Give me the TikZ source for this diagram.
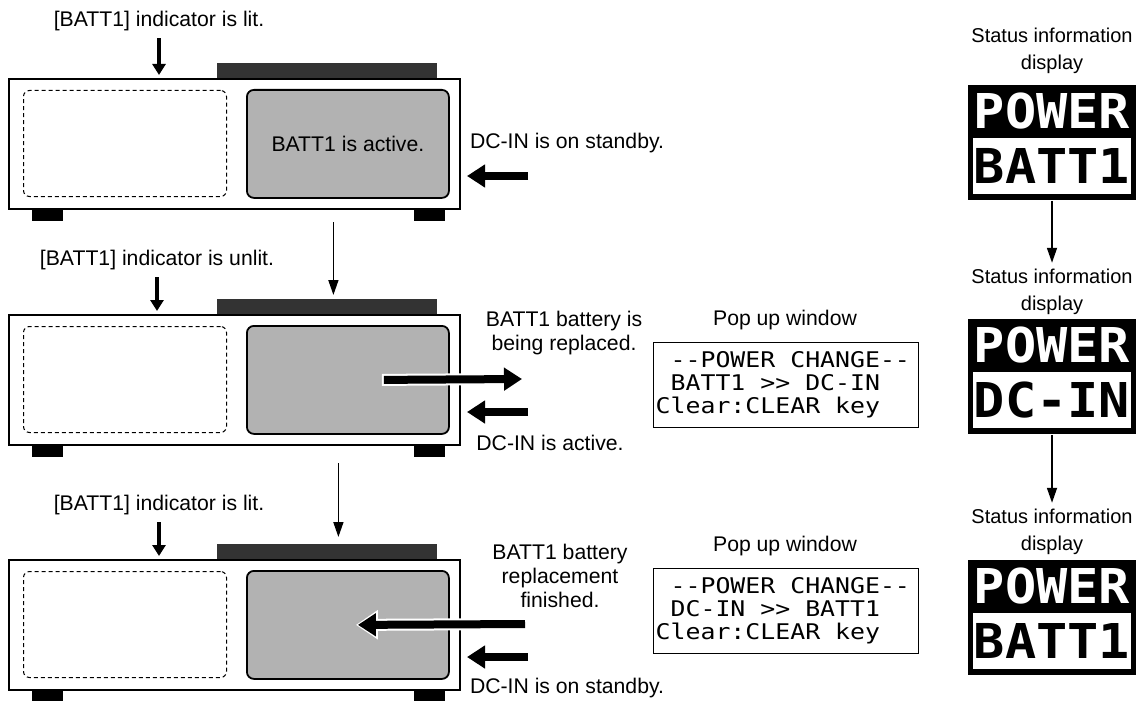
\documentclass[tikz,border=0pt]{standalone}
\usepackage{fontspec}
\setmainfont{Liberation Sans}
\newfontfamily\lcdfont{DejaVu Sans Mono}[FakeStretch=1.15]
\newfontfamily\dotfont{DejaVu Sans Mono Bold}[FakeStretch=1.08]
\usetikzlibrary{positioning,arrows.meta}
\definecolor{panelgray}{gray}{0.7}
\definecolor{lidgray}{gray}{0.2}
\newcommand{\lsp}{\hphantom{0}}

\begin{document}
\begin{tikzpicture}[x=0.5pt,y=-0.5pt,
  txt/.style={font=\fontsize{10.6}{12}\selectfont,align=center,inner sep=0pt},
  stxt/.style={font=\fontsize{10}{13.5}\selectfont,align=center,inner sep=0pt},
  case/.style={draw,line width=1pt,fill=white,minimum width=225.5pt,minimum height=65pt,anchor=north west,inner sep=0pt},
  slot/.style={draw,dash pattern=on 2pt off 1.5pt,line width=0.5pt,rounded corners=3pt,minimum width=101.5pt,minimum height=53pt,anchor=north west,inner sep=0pt},
  panel/.style={draw,line width=0.9pt,fill=panelgray,rounded corners=3.5pt,minimum width=101pt,minimum height=54pt,anchor=north west,inner sep=0pt},
  lid/.style={fill=lidgray,minimum width=110pt,minimum height=7.5pt,anchor=north west,inner sep=0pt},
  foot/.style={fill=black,minimum width=15.5pt,minimum height=6.5pt,anchor=north west,inner sep=0pt},
  popup/.style={draw,line width=0.7pt,anchor=north west,minimum height=42.5pt,text width=130.5pt,inner xsep=1pt,align=left,font=\lcdfont\fontsize{10.8}{11.5}\selectfont},
  screen/.style={fill=black,minimum width=84pt,minimum height=57.5pt,anchor=north,inner sep=0pt},
  dotrow/.style={inner sep=0pt,font=\dotfont\fontsize{24}{25}\selectfont},
  pointer/.style={-{Triangle[length=5.5pt,width=6.5pt]},line width=1.6pt},
  flow/.style={-{Triangle[length=7.5pt,width=5pt]},line width=0.8pt},
  fat/.style={-{Triangle[length=9pt,width=11pt]},line width=4pt},
  halo/.style={-{Triangle[length=11pt,width=14pt]},line width=6pt,white}]
\useasboundingbox (0,0) rectangle (1143,700);

% three views of the unit
\foreach \n/\t in {1/78,2/314,3/559}{
  \node[lid] (lid\n) at (217,\t-15) {};
  \node[foot] (footl\n) at (32,\t+130) {};
  \node[foot] (footr\n) at (414,\t+130) {};
  \node[case] (case\n) at (8,\t) {};
  \node[slot] (slot\n) at (23,\t+12) {};
  \node[panel] (panel\n) at (246,\t+11) {};
  % DC-IN feed
  \coordinate (dcin\n) at (528,\t+98);
  \draw[fat] (dcin\n) -- ([xshift=3pt]case\n.east |- dcin\n);
}
\node[txt] (act1) at (panel1) {BATT1 is active.};

% indicator notes
\node[txt] (lit1) at (159,21) {[BATT1] indicator is lit.};
\node[txt] (lit2) at (157,260) {[BATT1] indicator is unlit.};
\node[txt] (lit3) at (159,505) {[BATT1] indicator is lit.};
\foreach \n in {1,2,3}
  \draw[pointer,shorten <=3.5pt,shorten >=1.5pt] (lit\n) -- (lit\n |- case\n.north);

% steps
\draw[flow,shorten <=6pt,shorten >=2pt] ([xshift=3pt]lid2.north |- case1.south) -- ([xshift=3pt]lid2.north);
\draw[flow,shorten <=8.5pt,shorten >=3.5pt] ([xshift=5.5pt]lid3.north |- case2.south) -- ([xshift=5.5pt]lid3.north);

% right hand notes
\node[txt] (stby1) at (567,143) {DC-IN is on standby.};
\node[txt] (rep2) at (564,333) {BATT1 battery is\\being replaced.};
\node[txt] (act2) at (550,443) {DC-IN is active.};
\node[txt] (rep3) at (560,576) {BATT1 battery\\replacement\\finished.};
\node[txt] (stby3) at (567,688) {DC-IN is on standby.};

% battery out / in
\coordinate (out2) at (522,379);
\draw[halo] ([xshift=17pt]panel2.center) -- ([xshift=1pt]out2);
\draw[fat] ([xshift=18pt]panel2.center) -- (out2);
\coordinate (in3) at (525,624);
\draw[halo] ([xshift=1pt]in3) -- ([xshift=4pt]panel3.center);
\draw[fat] (in3) -- ([xshift=5pt]panel3.center);

% pop up windows
\node[txt] (popt2) at (785,320) {Pop up window};
\node[popup] (pop2) at (653,342) {\lsp--POWER\lsp CHANGE--\\\lsp BATT1\lsp>{}>\lsp DC-IN\\Clear:CLEAR\lsp key};
\node[txt] (popt3) at (785,546) {Pop up window};
\node[popup] (pop3) at (653,568) {\lsp--POWER\lsp CHANGE--\\\lsp DC-IN\lsp>{}>\lsp BATT1\\Clear:CLEAR\lsp key};

% status information displays
\node[stxt] (stat1) at (1052,51) {Status information\\display};
\node[stxt] (stat2) at (1052,292) {Status information\\display};
\node[stxt] (stat3) at (1052,532) {Status information\\display};
\foreach \n/\t/\s in {1/85/BATT1,2/319/DC-IN,3/560/BATT1}{
  \node[screen] (disp\n) at (1052,\t) {};
  \node[dotrow,text=white] (pow\n) at (1052,\t+26) {POWER};
  \node[fill=white,minimum width=79pt,minimum height=28pt,inner sep=0pt] (src\n) at (1052,\t+81) {};
  \node[dotrow] (srct\n) at (src\n) {\s};
}
\draw[flow,shorten >=3pt] (disp1) -- (stat2);
\draw[flow,shorten >=3pt] (disp2) -- (stat3);
\end{tikzpicture}
\end{document}
